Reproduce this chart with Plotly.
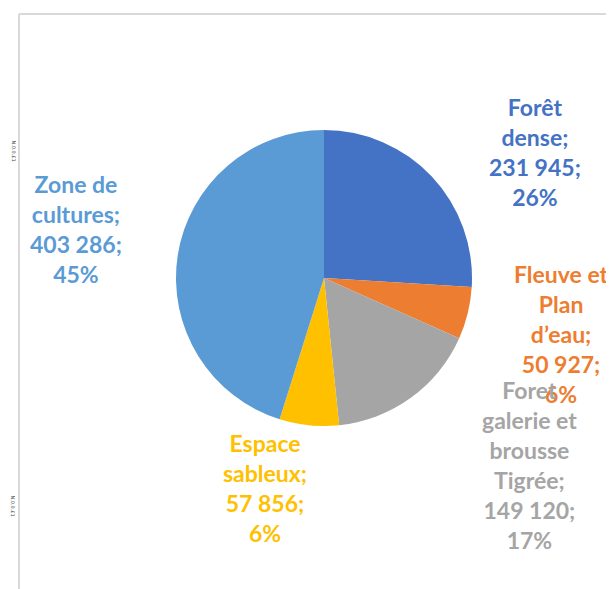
import plotly.graph_objects as go

# ---- data ----
categories = ["Forêt dense", "Fleuve et Plan d’eau", "Foret galerie et brousse Tigrée",
              "Espace sableux", "Zone de cultures"]
display_labels = ["Forêt<br>dense", "Fleuve et<br>Plan<br>d’eau",
                  "Foret<br>galerie et<br>brousse<br>Tigrée", "Espace<br>sableux",
                  "Zone de<br>cultures"]
values = [231945, 50927, 149120, 57856, 403286]
colors = ["#4472C4", "#ED7D31", "#A5A5A5", "#FFC000", "#5B9BD5"]

W, H = 614, 589
total = sum(values)

fig = go.Figure()
fig.add_trace(go.Pie(
    labels=categories, values=values, sort=False, direction="clockwise",
    rotation=0, marker=dict(colors=colors, line=dict(width=0)),
    textinfo="none", hoverinfo="label+value+percent", showlegend=False,
    domain=dict(x=[(316 - 148) / W, (316 + 148) / W],
                y=[1 - 418 / H, 1 - 122 / H]),
))

# label positions (pixel centres of text blocks)
label_pos = [(527, 144), (553, 326), (521, 457), (257, 480), (68, 221)]

def fmt(v):
    return f"{v:,}".replace(",", " ")

for lab, v, c, (px, py) in zip(display_labels, values, colors, label_pos):
    pct = round(v / total * 100)
    fig.add_annotation(
        x=px / W, y=1 - py / H, xref="paper", yref="paper",
        text=f"{lab};<br>{fmt(v)};<br>{pct}%", showarrow=False,
        font=dict(family="Lato", size=23, color=c, weight="bold"),
        align="center", xanchor="center", yanchor="middle",
    )

# tiny side artefact text
for py in (130, 510):
    fig.add_annotation(x=0, y=1 - py / H, xref="paper", yref="paper",
                       xanchor="left", text="N.0.0.£1", textangle=90,
                       showarrow=False,
                       font=dict(family="DejaVu Sans", size=5, color="#444"))

# chart frame
fig.add_shape(type="line", xref="paper", yref="paper",
              x0=11 / W, x1=1, y0=1 - 6 / H, y1=1 - 6 / H,
              line=dict(color="#D9D9D9", width=2))
fig.add_shape(type="line", xref="paper", yref="paper",
              x0=11 / W, x1=11 / W, y0=0, y1=1 - 6 / H,
              line=dict(color="#D9D9D9", width=2))

fig.update_layout(width=W, height=H, margin=dict(l=0, r=0, t=0, b=0),
                  paper_bgcolor="white", plot_bgcolor="white")

fig.write_html("out.html")
